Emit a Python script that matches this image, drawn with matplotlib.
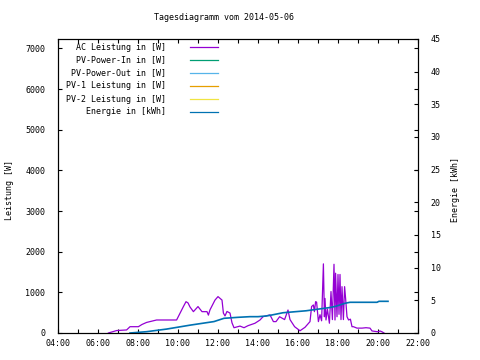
import matplotlib
matplotlib.use("Agg")
import matplotlib.pyplot as plt
from matplotlib.lines import Line2D
import numpy as np

title = "Tagesdiagramm vom 2014-05-06"
legend_labels = ["AC Leistung in [W]", "PV-Power-In in [W]", "PV-Power-Out in [W]",
                 "PV-1 Leistung in [W]", "PV-2 Leistung in [W]", "Energie in [kWh]"]
legend_colors = ["#9400D3", "#009E73", "#56B4E9", "#E69F00", "#F0E442", "#0072B2"]

# AC power (W) vs time (hours)
ac_hours = [6.52, 6.93, 7.43, 7.6, 8.02, 8.2, 8.43, 8.93, 9.35, 9.93, 10.1, 10.27, 10.4, 10.5,
            10.6, 10.77, 11.0, 11.2, 11.45, 11.52, 11.6, 11.85, 12.0, 12.2, 12.27, 12.35, 12.45,
            12.6, 12.7, 12.8, 13.1, 13.3, 13.5, 13.85, 14.1, 14.25, 14.4, 14.6, 14.77, 14.9,
            15.08, 15.33, 15.5, 15.6, 15.83, 16.1, 16.35, 16.6, 16.68, 16.77, 16.82, 16.88,
            16.93, 17.02, 17.1, 17.18, 17.27, 17.32, 17.35, 17.4, 17.47, 17.57, 17.65, 17.72,
            17.8, 17.85, 17.88, 17.95, 18.0, 18.05, 18.1, 18.15, 18.2, 18.27, 18.33, 18.38,
            18.45, 18.53, 18.62, 18.7, 18.77, 18.95, 19.2, 19.4, 19.6, 19.7, 19.85, 20.0,
            20.1, 20.2, 20.3]
ac_power = [0, 60, 75, 155, 155, 210, 260, 320, 320, 320, 485, 650, 770, 740,
            640, 525, 650, 525, 525, 440, 570, 810, 895, 810, 490, 420, 530,
            490, 250, 130, 170, 130, 180, 240, 320, 400, 420, 445, 280, 280,
            400, 330, 565, 330, 155, 55, 140, 280, 650, 690, 525, 770,
            760, 280, 450, 300, 1700, 400, 850, 320, 590, 240, 1020, 330,
            1690, 320, 1470, 400, 1440, 460, 1440, 330, 1140, 330, 1140, 850,
            400, 320, 340, 155, 155, 120, 120, 130, 120, 50, 40, 30,
            50, 30, 0]

# Energy (kWh) vs time (hours)
en_hours = [7.6, 8.43, 9.43, 10.6, 11.8, 12.3, 13.0, 13.6, 14.0, 14.4, 14.6, 15.25, 16.4,
            17.6, 17.9, 18.35, 18.6, 19.95, 20.05, 20.5]
en_kwh = [0.0, 0.2, 0.6, 1.2, 1.75, 2.25, 2.4, 2.5, 2.5, 2.6, 2.7, 3.1, 3.4,
          3.9, 4.1, 4.55, 4.7, 4.7, 4.85, 4.85]

x_ticks = list(range(4, 23, 2))
x_labels = ["%02d:00" % h for h in x_ticks]
y1_ticks = [0, 1000, 2000, 3000, 4000, 5000, 6000, 7000]
y2_ticks = [0, 5, 10, 15, 20, 25, 30, 35, 40, 45]

plt.rcParams['font.family'] = ['DejaVu Sans Mono']
FS = 6

W, H = 480, 360
fig = plt.figure(figsize=(W / 100, H / 100), dpi=100)
L, R, T, B = 58, 418, 39, 333
ax = fig.add_axes([L / W, 1 - B / H, (R - L) / W, (B - T) / H])
ax2 = ax.twinx()

ax.plot(ac_hours, ac_power, color=legend_colors[0], lw=0.9)
ax2.plot(en_hours, en_kwh, color=legend_colors[5], lw=1.2)

ax.set_xlim(4, 22)
ax.set_ylim(0, 7230)
ax2.set_ylim(0, 45)

ax.set_xticks(x_ticks)
ax.set_xticklabels(x_labels, fontsize=FS)
ax.set_xticks(range(4, 23), minor=True)
ax.set_yticks(y1_ticks)
ax.set_yticklabels([str(v) for v in y1_ticks], fontsize=FS)
ax2.set_yticks(y2_ticks)
ax2.set_yticklabels([str(v) for v in y2_ticks], fontsize=FS)

ax.tick_params(axis='both', which='both', direction='in', length=3, width=0.8,
               top=True, right=True, pad=4)
ax.tick_params(axis='x', which='major', pad=4)
ax.tick_params(axis='y', which='major', pad=9)
ax2.tick_params(axis='y', direction='in', length=3, width=0.8, pad=9)

for a in (ax, ax2):
    for s in a.spines.values():
        s.set_linewidth(0.8)

fig.text(224 / W, 1 - 18 / H, title, ha='center', va='center', fontsize=FS)
fig.text(10 / W, 1 - 190 / H, "Leistung [W]", rotation=90, ha='center', va='center', fontsize=FS)
fig.text(455 / W, 1 - 190 / H, "Energie [kWh]", rotation=90, ha='center', va='center', fontsize=FS)

rows = [47, 60, 73, 86, 99, 112]
for lab, col, yy in zip(legend_labels, legend_colors, rows):
    fig.text(166 / W, 1 - yy / H, lab, ha='right', va='center', fontsize=FS)
    fig.add_artist(Line2D([190 / W, 218 / W], [1 - yy / H, 1 - yy / H], color=col, lw=0.9,
                          transform=fig.transFigure))

fig.savefig("out.png", dpi=100)
